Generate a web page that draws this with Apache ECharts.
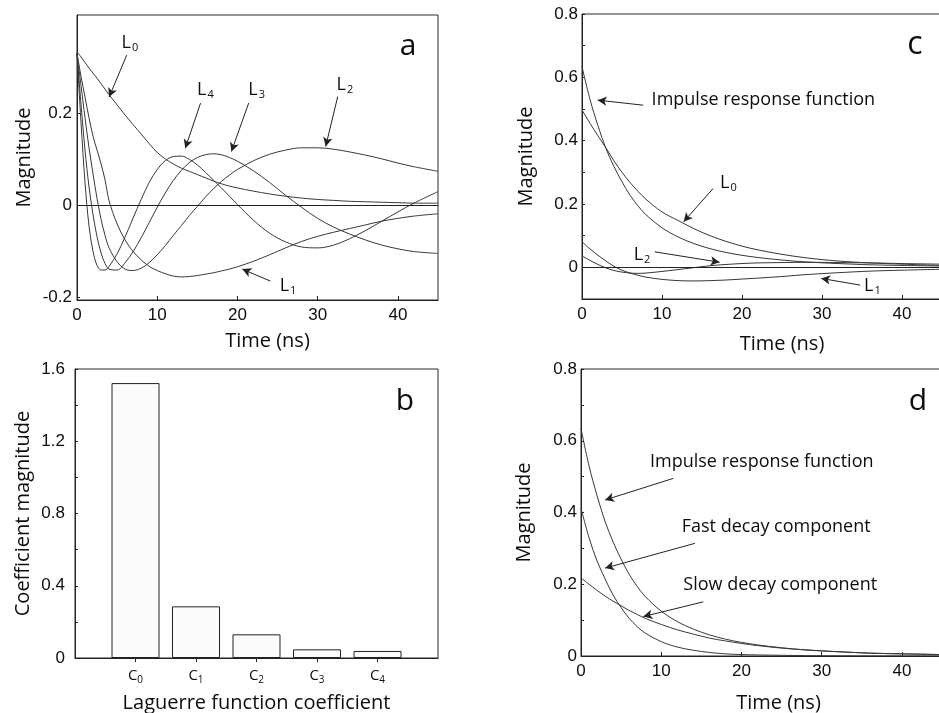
<!DOCTYPE html>
<html>
<head>
<meta charset="utf-8">
<title>Laguerre expansion of the impulse response</title>
<script src="https://cdn.jsdelivr.net/npm/echarts@6/dist/echarts.min.js"></script>
<style>
  html, body { margin: 0; padding: 0; background: #fff; }
  #chart { width: 939px; height: 713px; }
</style>
</head>
<body>
<div id="chart"></div>
<script>
// ---- panel a : Laguerre functions
const tA = [0, 0.5, 1, 1.5, 2, 2.5, 3, 3.5, 4, 5, 6, 7, 8, 9, 10, 11, 12, 13, 14, 15, 16, 17, 18, 19, 20, 22, 24, 26, 28, 30, 32, 34, 36, 38, 40, 42, 45];
const l0A = [0.333, 0.322, 0.31, 0.298, 0.287, 0.276, 0.264, 0.252, 0.24, 0.218, 0.196, 0.175, 0.155, 0.134, 0.115, 0.101, 0.09, 0.081, 0.074, 0.067, 0.06, 0.053, 0.047, 0.042, 0.038, 0.031, 0.025, 0.02, 0.016, 0.013, 0.011, 0.009, 0.008, 0.007, 0.006, 0.005, 0.005];
const l1A = [0.33, 0.28, 0.235, 0.19, 0.15, 0.12, 0.09, 0.055, 0.01, -0.04, -0.075, -0.1, -0.118, -0.132, -0.141, -0.148, -0.153, -0.155, -0.154, -0.152, -0.149, -0.146, -0.142, -0.138, -0.133, -0.121, -0.107, -0.092, -0.078, -0.067, -0.058, -0.05, -0.042, -0.034, -0.028, -0.023, -0.018];
const l2A = [0.33, 0.26, 0.19, 0.125, 0.068, 0.015, -0.03, -0.065, -0.092, -0.122, -0.138, -0.141, -0.136, -0.124, -0.107, -0.087, -0.065, -0.044, -0.022, -0.002, 0.018, 0.036, 0.052, 0.066, 0.078, 0.097, 0.111, 0.12, 0.125, 0.125, 0.122, 0.116, 0.109, 0.101, 0.092, 0.084, 0.074];
const l3A = [0.33, 0.22, 0.12, 0.04, -0.02, -0.068, -0.103, -0.126, -0.138, -0.14, -0.124, -0.1, -0.07, -0.037, -0.004, 0.027, 0.054, 0.076, 0.093, 0.104, 0.11, 0.112, 0.11, 0.104, 0.096, 0.075, 0.05, 0.022, -0.004, -0.028, -0.047, -0.062, -0.075, -0.086, -0.094, -0.1, -0.104];
const l4A = [0.33, 0.18, 0.05, -0.045, -0.1, -0.13, -0.14, -0.14, -0.132, -0.105, -0.068, -0.027, 0.013, 0.05, 0.078, 0.097, 0.106, 0.107, 0.1, 0.088, 0.072, 0.055, 0.038, 0.02, 0.002, -0.032, -0.06, -0.079, -0.09, -0.092, -0.086, -0.072, -0.054, -0.034, -0.014, 0.005, 0.03];

// ---- panel b : expansion coefficients
const coefPos = [1, 2, 3, 4, 5];
const coefVal = [1.522, 0.286, 0.131, 0.048, 0.039];

// ---- panels c and d : impulse response, weighted Laguerre terms, decay components
const tC = [0, 1, 2, 3, 4, 5, 6, 7, 8, 10, 12, 14, 16, 18, 20, 22, 25, 28, 32, 36, 40, 45];
const irf = [0.634, 0.53, 0.447, 0.375, 0.318, 0.27, 0.228, 0.194, 0.166, 0.125, 0.096, 0.075, 0.059, 0.047, 0.038, 0.031, 0.023, 0.017, 0.012, 0.008, 0.006, 0.004];
const l0C = [0.497, 0.455, 0.415, 0.377, 0.336, 0.3, 0.268, 0.24, 0.215, 0.175, 0.148, 0.122, 0.1, 0.082, 0.067, 0.055, 0.041, 0.03, 0.02, 0.014, 0.01, 0.006];
const l1C = [0.081, 0.058, 0.038, 0.02, 0.003, -0.009, -0.018, -0.025, -0.031, -0.038, -0.042, -0.043, -0.042, -0.04, -0.037, -0.034, -0.029, -0.023, -0.017, -0.012, -0.009, -0.006];
const l2C = [0.036, 0.022, 0.009, -0.002, -0.01, -0.015, -0.018, -0.019, -0.018, -0.013, -0.007, -0.001, 0.005, 0.009, 0.012, 0.014, 0.015, 0.016, 0.015, 0.014, 0.012, 0.01];
const fastD = [0.412, 0.33, 0.265, 0.215, 0.17, 0.135, 0.105, 0.082, 0.064, 0.04, 0.025, 0.016, 0.01, 0.006, 0.004, 0.003, 0.002, 0.001, 0.0005, 0, 0, 0];
const slowD = [0.218, 0.2, 0.183, 0.167, 0.153, 0.14, 0.127, 0.116, 0.105, 0.088, 0.073, 0.061, 0.05, 0.042, 0.035, 0.029, 0.022, 0.017, 0.012, 0.008, 0.006, 0.004];

// tick labels
const timeTicks = [0, 10, 20, 30, 40];
const yTicksA = [-0.2, 0, 0.2];
const yTicksC = [0, 0.2, 0.4, 0.6, 0.8];
const yMinorC = [-0.1, 0, 0.1, 0.2, 0.3, 0.4, 0.5, 0.6, 0.7, 0.8];
const yMinorD = [0, 0.1, 0.2, 0.3, 0.4, 0.5, 0.6, 0.7, 0.8];
const yTicksB = [0, 0.4, 0.8, 1.2, 1.6];
const yMinorB = [0, 0.2, 0.4, 0.6, 0.8, 1.0, 1.2, 1.4, 1.6];

// annotations: arrows [x1, y1, x2, y2] and labels in data units
const arrowsA = [[6.2, 0.326, 4, 0.235], [15.4, 0.222, 13.5, 0.124], [21.4, 0.222, 19.25, 0.117], [32.5, 0.236, 31, 0.128], [24.1, -0.164, 20.6, -0.138]];
const subLabelsA = [[6.6, 0.352, '0'], [16, 0.25, '4'], [22.4, 0.25, '3'], [33.4, 0.262, '2'], [26.3, -0.174, '1']];
const arrowsC = [[7.66, 0.512, 1.96, 0.528], [16.4, 0.249, 12.7, 0.144], [9.1, 0.049, 17.2, 0.016], [34.75, -0.056, 29.9, -0.035]];
const subLabelsC = [[18.3, 0.267, '0'], [7.5, 0.04, '2'], [36.3, -0.06, '1']];
const textsC = [[8.7, 0.528, 'Impulse response function']];
const arrowsD = [[11.5, 0.495, 3, 0.435], [14.2, 0.314, 3, 0.245], [15.25, 0.151, 7.77, 0.11]];
const textsD = [[8.6, 0.542, 'Impulse response function'], [12.55, 0.36, 'Fast decay component'], [12.75, 0.198, 'Slow decay component']];

const TICK_FONT = 'Liberation Sans';
const NAME_FONT = 'Open Sans';
const INK = '#0d0d0d';
const LINE = '#383838';

const subRich = {
  m: { fontFamily: NAME_FONT, fontSize: 18, color: INK },
  s: { fontFamily: NAME_FONT, fontSize: 11, color: INK, padding: [10, 0, 0, 1] }
};

function pairs(xs, ys) {
  return xs.map((x, i) => [x, ys[i]]);
}

function arrowData(list) {
  return list.map((a) => [{ coord: [a[0], a[1]] }, { coord: [a[2], a[3]] }]);
}

function subPoints(list, letter) {
  return list.map((p) => ({
    coord: [p[0], p[1]],
    label: { show: true, position: 'inside', formatter: '{m|' + letter + '}{s|' + p[2] + '}', rich: subRich }
  }));
}

function textPoints(list) {
  return list.map((p) => ({
    coord: [p[0], p[1]],
    label: { show: true, position: 'right', distance: 0, formatter: p[2], fontFamily: NAME_FONT, fontSize: 18, color: INK }
  }));
}

function lineSeries(name, axis, xs, ys, extra) {
  return Object.assign({
    name: name,
    type: 'line',
    xAxisIndex: axis,
    yAxisIndex: axis,
    data: pairs(xs, ys),
    showSymbol: false,
    smooth: 0.35,
    silent: true,
    lineStyle: { color: LINE, width: 1 },
    z: 3
  }, extra || {});
}

// arrows + labels on one series, the zero line on another
function annotations(arrows, points) {
  return {
    markLine: {
      silent: true,
      animation: false,
      symbol: ['none', 'arrow'],
      symbolSize: [7, 9],
      label: { show: false },
      lineStyle: { color: '#222', width: 1, type: 'solid' },
      emphasis: { disabled: true },
      data: arrowData(arrows)
    },
    markPoint: {
      silent: true,
      animation: false,
      symbol: 'circle',
      symbolSize: 0,
      itemStyle: { color: 'transparent' },
      data: points
    }
  };
}

function zeroLine() {
  return {
    markLine: {
      silent: true,
      animation: false,
      symbol: ['none', 'none'],
      label: { show: false },
      lineStyle: { color: '#222', width: 1, type: 'solid' },
      emphasis: { disabled: true },
      data: [{ yAxis: 0 }]
    }
  };
}

function timeAxis(grid, gap, shift) {
  return {
    gridIndex: grid, type: 'value', min: 0, max: 45,
    axisLine: { show: true, onZero: false, lineStyle: { color: '#222' } },
    axisTick: { show: true, inside: true, length: 4, customValues: timeTicks, lineStyle: { color: '#222' } },
    axisLabel: { customValues: timeTicks, margin: 7, fontFamily: TICK_FONT, fontSize: 17, color: INK },
    splitLine: { show: false },
    name: 'Time (ns)', nameLocation: 'middle', nameGap: gap,
    nameTextStyle: { fontFamily: NAME_FONT, fontSize: 20, color: INK, padding: [0, 0, 0, shift] }
  };
}

function magAxis(grid, min, max, labels, ticks, name, gap, margin) {
  return {
    gridIndex: grid, type: 'value', min: min, max: max,
    axisLine: { show: true, onZero: false, lineStyle: { color: '#222' } },
    axisTick: { show: true, inside: true, length: 3, customValues: ticks, lineStyle: { color: '#222' } },
    axisLabel: { customValues: labels, margin: margin, fontFamily: TICK_FONT, fontSize: 17, color: INK },
    splitLine: { show: false },
    name: name, nameLocation: 'middle', nameRotate: 90, nameGap: gap,
    nameTextStyle: { fontFamily: NAME_FONT, fontSize: 20, color: INK }
  };
}

const gridStyle = { show: true, borderColor: '#2a2a2a', borderWidth: 1, backgroundColor: '#fff', outerBoundsMode: 'none', containLabel: false };

const option = {
  backgroundColor: '#fff',
  animation: false,
  grid: [
    Object.assign({ left: 77, right: 501, top: 15, bottom: 413 }, gridStyle),
    Object.assign({ left: 75, right: 501, top: 369, bottom: 55 }, gridStyle),
    Object.assign({ left: 582, right: -3, top: 14, bottom: 414 }, gridStyle),
    Object.assign({ left: 581, right: -3, top: 369, bottom: 57 }, gridStyle)
  ],
  xAxis: [
    timeAxis(0, 31, 20),
    {
      gridIndex: 1, type: 'value', min: 0, max: 6,
      axisLine: { show: true, onZero: false, lineStyle: { color: '#222' } },
      axisTick: { show: true, inside: false, length: 4, customValues: coefPos, lineStyle: { color: '#222' } },
      axisLabel: {
        customValues: coefPos, margin: 9,
        formatter: (v) => '{m|C}{s|' + (v - 1) + '}',
        rich: {
          m: { fontFamily: NAME_FONT, fontSize: 15, color: INK },
          s: { fontFamily: NAME_FONT, fontSize: 10, color: INK, padding: [8, 0, 0, 0] }
        }
      },
      splitLine: { show: false },
      name: 'Laguerre function coefficient', nameLocation: 'middle', nameGap: 35,
      nameTextStyle: { fontFamily: NAME_FONT, fontSize: 20, color: INK }
    },
    timeAxis(2, 35, 40),
    timeAxis(3, 37, 34)
  ],
  yAxis: [
    magAxis(0, -0.205, 0.413, yTicksA, yTicksA, 'Magnitude', 43, 5),
    magAxis(1, 0, 1.6, yTicksB, yMinorB, 'Coefficient magnitude', 42, 10),
    magAxis(2, -0.1, 0.8, yTicksC, yMinorC, 'Magnitude', 46, 4),
    magAxis(3, 0, 0.8, yTicksC, yMinorD, 'Magnitude', 47, 4)
  ],
  series: [
    lineSeries('L0', 0, tA, l0A, annotations(arrowsA, subPoints(subLabelsA, 'L'))),
    lineSeries('L1', 0, tA, l1A, zeroLine()),
    lineSeries('L2', 0, tA, l2A),
    lineSeries('L3', 0, tA, l3A),
    lineSeries('L4', 0, tA, l4A),
    {
      name: 'Coefficients',
      type: 'bar',
      xAxisIndex: 1,
      yAxisIndex: 1,
      data: pairs(coefPos, coefVal),
      barWidth: 48,
      silent: true,
      itemStyle: { color: '#fbfbfb', borderColor: '#222', borderWidth: 1 }
    },
    lineSeries('Impulse response (c)', 2, tC, irf, annotations(arrowsC, subPoints(subLabelsC, 'L').concat(textPoints(textsC)))),
    lineSeries('L0 (c)', 2, tC, l0C, zeroLine()),
    lineSeries('L1 (c)', 2, tC, l1C),
    lineSeries('L2 (c)', 2, tC, l2C),
    lineSeries('Impulse response (d)', 3, tC, irf, annotations(arrowsD, textPoints(textsD))),
    lineSeries('Fast decay', 3, tC, fastD),
    lineSeries('Slow decay', 3, tC, slowD)
  ],
  graphic: [
    { type: 'text', x: 408, y: 46, style: { text: 'a', font: '30px "Open Sans"', fill: INK, align: 'center', verticalAlign: 'middle' } },
    { type: 'text', x: 405, y: 401, style: { text: 'b', font: '30px "Open Sans"', fill: INK, align: 'center', verticalAlign: 'middle' } },
    { type: 'text', x: 915, y: 45, style: { text: 'c', font: '32px "Open Sans"', fill: INK, align: 'center', verticalAlign: 'middle' } },
    { type: 'text', x: 918, y: 401, style: { text: 'd', font: '30px "Open Sans"', fill: INK, align: 'center', verticalAlign: 'middle' } }
  ]
};

const chart = echarts.init(document.getElementById('chart'));
chart.setOption(option);
window.addEventListener('resize', () => chart.resize());
</script>
</body>
</html>
